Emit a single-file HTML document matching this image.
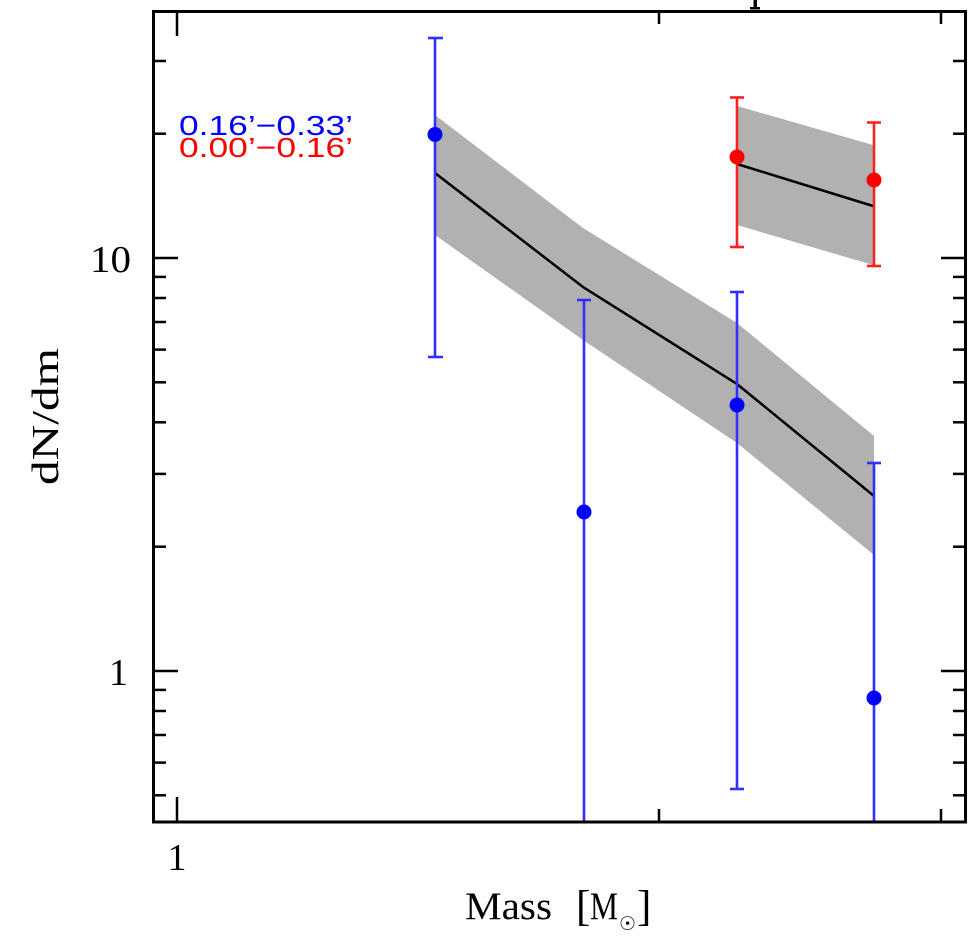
<!DOCTYPE html>
<html>
<head>
<meta charset="utf-8">
<style>
  html, body { margin:0; padding:0; background:#fff; }
  svg { display:block; }
</style>
</head>
<body>
<svg width="978" height="938" viewBox="0 0 978 938" xmlns="http://www.w3.org/2000/svg">
  <rect x="0" y="0" width="978" height="938" fill="#fff"/>

  <rect x="753.5" y="0" width="3.5" height="9" fill="#000"/>
  <rect x="750" y="7" width="10" height="2.5" fill="#000"/>

  <polygon points="435,115 583,228 737,323 874,436 874,555 737,443 583,340 435,235" fill="#b1b1b1"/>
  <polygon points="737,106 873,145 873,265 737,225" fill="#b1b1b1"/>

  <polyline points="435,173 583,287 737,384 874,496" fill="none" stroke="#000" stroke-width="2.5"/>
  <polyline points="737,164 873,206" fill="none" stroke="#000" stroke-width="2.5"/>

  <g stroke="#3030ff" stroke-width="2.6" fill="none">
    <line x1="435" y1="38" x2="435" y2="357"/>
    <line x1="428" y1="38" x2="443" y2="38"/>
    <line x1="428" y1="357" x2="443" y2="357"/>
    <line x1="584" y1="300" x2="584" y2="822"/>
    <line x1="577" y1="300" x2="591" y2="300"/>
    <line x1="737" y1="292" x2="737" y2="789"/>
    <line x1="730" y1="292" x2="744" y2="292"/>
    <line x1="730" y1="789" x2="744" y2="789"/>
    <line x1="874" y1="463" x2="874" y2="822"/>
    <line x1="867" y1="463" x2="881" y2="463"/>
  </g>

  <g stroke="#ff2020" stroke-width="2.6" fill="none">
    <line x1="737" y1="97.5" x2="737" y2="247"/>
    <line x1="730" y1="97.5" x2="744" y2="97.5"/>
    <line x1="730" y1="247" x2="744" y2="247"/>
    <line x1="874" y1="122.5" x2="874" y2="266"/>
    <line x1="867" y1="122.5" x2="881" y2="122.5"/>
    <line x1="867" y1="266" x2="881" y2="266"/>
  </g>

  <g fill="#0000ff">
    <circle cx="435" cy="134.5" r="7.5"/>
    <circle cx="584" cy="512" r="7.5"/>
    <circle cx="737" cy="405" r="7.5"/>
    <circle cx="874" cy="698" r="7.5"/>
  </g>
  <g fill="#ff0000">
    <circle cx="737" cy="157" r="7.5"/>
    <circle cx="874" cy="180" r="7.5"/>
  </g>

  <rect x="153.5" y="11.5" width="812" height="810.5" fill="none" stroke="#000" stroke-width="3"/>

  <g stroke="#000" stroke-width="2.5">
    <line x1="153" y1="258" x2="178" y2="258"/>
    <line x1="153" y1="671" x2="178" y2="671"/>
    <line x1="153" y1="61" x2="166" y2="61"/>
    <line x1="153" y1="133.7" x2="166" y2="133.7"/>
    <line x1="153" y1="276.9" x2="166" y2="276.9"/>
    <line x1="153" y1="298" x2="166" y2="298"/>
    <line x1="153" y1="322" x2="166" y2="322"/>
    <line x1="153" y1="349.6" x2="166" y2="349.6"/>
    <line x1="153" y1="382.3" x2="166" y2="382.3"/>
    <line x1="153" y1="422.3" x2="166" y2="422.3"/>
    <line x1="153" y1="473.9" x2="166" y2="473.9"/>
    <line x1="153" y1="546.7" x2="166" y2="546.7"/>
    <line x1="153" y1="689.9" x2="166" y2="689.9"/>
    <line x1="153" y1="711" x2="166" y2="711"/>
    <line x1="153" y1="735" x2="166" y2="735"/>
    <line x1="153" y1="762.6" x2="166" y2="762.6"/>
    <line x1="153" y1="795.3" x2="166" y2="795.3"/>
    <line x1="941" y1="258" x2="966" y2="258"/>
    <line x1="941" y1="671" x2="966" y2="671"/>
    <line x1="953" y1="61" x2="966" y2="61"/>
    <line x1="953" y1="133.7" x2="966" y2="133.7"/>
    <line x1="953" y1="276.9" x2="966" y2="276.9"/>
    <line x1="953" y1="298" x2="966" y2="298"/>
    <line x1="953" y1="322" x2="966" y2="322"/>
    <line x1="953" y1="349.6" x2="966" y2="349.6"/>
    <line x1="953" y1="382.3" x2="966" y2="382.3"/>
    <line x1="953" y1="422.3" x2="966" y2="422.3"/>
    <line x1="953" y1="473.9" x2="966" y2="473.9"/>
    <line x1="953" y1="546.7" x2="966" y2="546.7"/>
    <line x1="953" y1="689.9" x2="966" y2="689.9"/>
    <line x1="953" y1="711" x2="966" y2="711"/>
    <line x1="953" y1="735" x2="966" y2="735"/>
    <line x1="953" y1="762.6" x2="966" y2="762.6"/>
    <line x1="953" y1="795.3" x2="966" y2="795.3"/>
    <line x1="177" y1="822" x2="177" y2="797"/>
    <line x1="659" y1="822" x2="659" y2="809"/>
    <line x1="941" y1="822" x2="941" y2="809"/>
    <line x1="177" y1="11" x2="177" y2="36"/>
    <line x1="659" y1="11" x2="659" y2="24"/>
    <line x1="941" y1="11" x2="941" y2="24"/>
  </g>

  <g font-family="'Liberation Serif', serif" font-size="38" fill="#000">
    <text x="131" y="272" text-anchor="end" textLength="41" lengthAdjust="spacingAndGlyphs">10</text>
    <text x="128" y="685" text-anchor="end">1</text>
    <text x="177" y="870" text-anchor="middle">1</text>
  </g>

  <text x="0" y="0" font-family="'Liberation Serif', serif" font-size="38" fill="#000"
        transform="translate(58,485) rotate(-90)" textLength="137" lengthAdjust="spacingAndGlyphs">dN/dm</text>
  <text x="465" y="919" font-family="'Liberation Serif', serif" font-size="39" fill="#000"
        textLength="87" lengthAdjust="spacingAndGlyphs">Mass</text>
  <text x="576" y="920" font-family="'Liberation Serif', serif" font-size="43" fill="#000">[</text>
  <text x="590" y="919" font-family="'Liberation Serif', serif" font-size="39" fill="#000"
        textLength="28" lengthAdjust="spacingAndGlyphs">M</text>
  <text x="619" y="930" font-family="'DejaVu Sans', sans-serif" font-size="19" fill="#000">☉</text>
  <text x="637" y="920" font-family="'Liberation Serif', serif" font-size="43" fill="#000">]</text>

  <text x="179" y="135" font-family="'Liberation Sans', sans-serif" font-size="28" fill="#0000ff"
        textLength="174" lengthAdjust="spacingAndGlyphs">0.16’−0.33’</text>
  <text x="179" y="157" font-family="'Liberation Sans', sans-serif" font-size="28" fill="#ff0000"
        textLength="174" lengthAdjust="spacingAndGlyphs">0.00’−0.16’</text>
</svg>
</body>
</html>
